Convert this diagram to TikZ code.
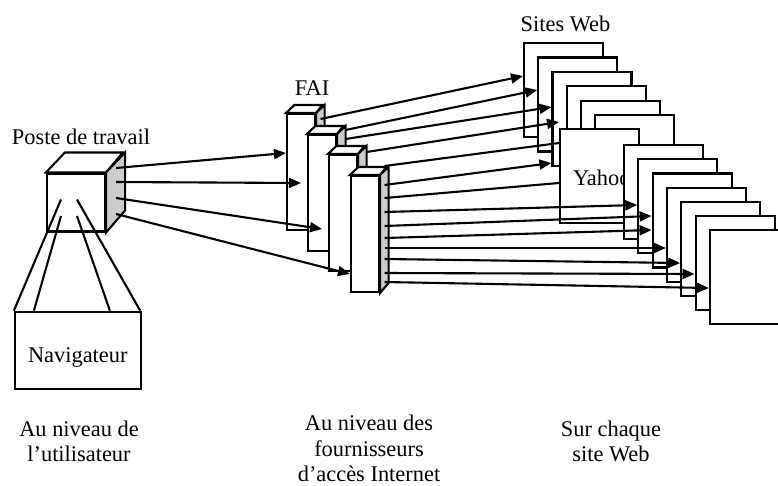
\documentclass[tikz,border=0pt]{standalone}
\usepackage{fontspec}
\setmainfont{Liberation Serif}
\usetikzlibrary{arrows.meta,calc}

\begin{document}
\begin{tikzpicture}[
  x=1pt, y=-1pt, line width=2.1pt, >={Triangle[length=12pt,width=10pt]},
  font=\fontsize{22.4}{25.5}\selectfont,
  front/.style={draw, fill=white, inner sep=0pt},
  shade/.style={draw, fill=black!20},
  faibox/.style={front, minimum width=28pt, minimum height=116pt},
  page/.style={front, minimum width=79pt, minimum height=94pt, anchor=north west},
  lbl/.style={anchor=base, align=center},
]
  \useasboundingbox (0,0) rectangle (778,485);
  \clip (0,0) rectangle (778,485);

  % poste de travail
  \node[front, minimum size=58pt] (ws) at (76,202.5) {};
  \draw[fill=white] (ws.north west) -- ++(19,-20) -- ++(58,0) -- (ws.north east) -- cycle;
  \draw[shade] (ws.north east) -- ++(19,-20) -- ++(0,58) -- (ws.south east) -- cycle;
  \node[lbl] (wslbl) at (81,144) {Poste de travail};

  % navigateur
  \node[front, minimum width=125.7pt, minimum height=77.6pt,
        text height=27pt, text depth=4pt] (nav) at (77.8,350.5) {Navigateur};
  \draw ($(ws.center)+(-15,-3)$) -- (nav.north west);
  \draw ($(ws.center)+(-15,13.5)$) -- ($(nav.north west)+(20,0)$);
  \draw ($(ws.center)+(1,-3)$) -- ($(nav.north east)+(-1.5,0)$);
  \draw ($(ws.center)+(1,13.5)$) -- ($(nav.north west)+(96,0)$);

  % FAI
  \foreach \i/\x/\y in {1/301/172, 2/322/193, 3/343/213, 4/365/234} {
    \node[faibox] (fai\i) at (\x,\y) {};
    \draw[fill=white] (fai\i.north west) -- ++(8.5,-8) -- ++(28,0) -- (fai\i.north east) -- cycle;
    \draw[shade] (fai\i.north east) -- ++(8.5,-8) -- ++(0,116) -- (fai\i.south east) -- cycle;
    \coordinate (s\i) at ($(fai\i.east)+(4.5,0)$);
    \coordinate (b\i) at ($(fai\i.east)+(8.5,0)$);
  }
  \node[lbl] (failbl) at (312,95) {FAI};

  % sites web
  \foreach \i/\n in {0/p1, 1/p2, 2/p3, 3/p4, 4/p5, 5/p6}
    \node[page] (\n) at (523+14.2*\i, 42+14.4*\i) {};
  \node[page] (yahoo) at (559,128) {};
  \node[anchor=base west, inner sep=0pt] (yahootxt) at ($(yahoo.north west)+(13,57)$) {Yahoo};
  \foreach \i/\n in {0/pA, 1/pB, 2/pC, 3/pD, 4/pE, 5/pF, 6/pG}
    \node[page] (\n) at (623+14.3*\i, 144+14.2*\i) {};
  \node[lbl] (siteslbl) at (565.5,31.7) {Sites Web};

  % poste -> FAI
  \coordinate (wss) at ($(ws.east)+(10,0)$);
  \draw[->] (wss |- 0,168) -- (fai1.west |- 0,153);
  \draw[->] (wss |- 0,182) -- (fai1.center |- 0,183);
  \draw[->] (wss |- 0,198) -- (fai2.center |- 0,229);
  \draw[->] (wss |- 0,214) -- (fai4.west |- 0,274);

  % FAI -> sites
  \draw[->] (s1 |- 0,119) -- (p1.west |- 0,76);
  \draw[->] (b2 |- 0,130) -- (p2.west |- 0,90);
  \draw[->] (b2 |- 0,139) -- (p3.west |- 0,107);
  \draw[->] (b3 |- 0,152) -- (yahoo.west |- 0,122);
  \draw (s4 |- 0,166) -- (yahoo.west |- 0,143);
  \draw[->] (s4 |- 0,185) -- (p3.west |- 0,163);
  \draw (s4 |- 0,198) -- (yahoo.west |- 0,183);
  \foreach \sy/\n/\ty in {212/pB/205, 226/pC/216, 238/pC/230, 248/pD/248,
                          259/pE/263, 273/pF/274, 282/pG/288}
    \draw[->] (s4 |- 0,\sy) -- (\n.west |- 0,\ty);

  % niveaux (base = last line)
  \node[lbl] (niv1) at (79,461.5) {Au niveau de\\l’utilisateur};
  \node[lbl] (niv2) at (369,481.5) {Au niveau des\\fournisseurs\\d’accès Internet};
  \node[lbl] (niv3) at (611,461.5) {Sur chaque\\site Web};
\end{tikzpicture}
\end{document}
